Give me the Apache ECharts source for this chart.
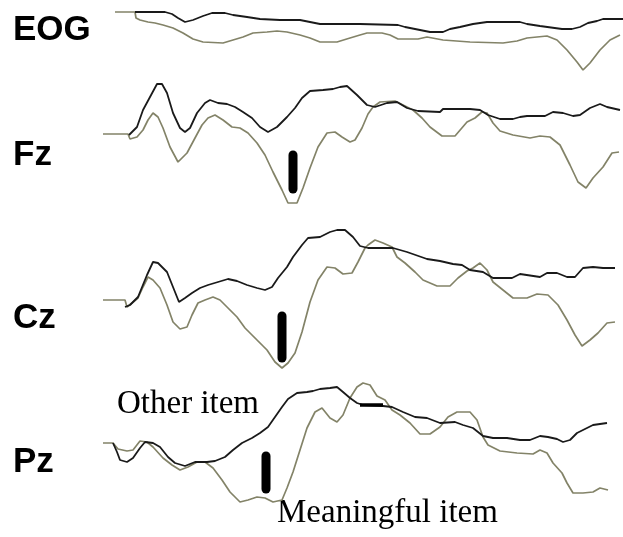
<!DOCTYPE html>
<html>
<head>
<meta charset="utf-8">
<script src="https://cdn.jsdelivr.net/npm/echarts@6/dist/echarts.min.js"></script>
<style>
html,body{margin:0;padding:0;background:#fff;}
#chart{width:623px;height:537px;}
</style>
</head>
<body>
<div id="chart"></div>
<script>
// Channel labels
const channels = ['EOG', 'Fz', 'Cz', 'Pz'];
const itemLabels = ['Other item', 'Meaningful item'];

// Time (samples) / amplitude pairs
const eogMeaningful = [[115,0],[135,0],[136,-6],[140,-8],[148,-10],[155,-11],[163,-13],[173,-16],[183,-21],[193,-27],[203,-30],[223,-31],[233,-28],[243,-25],[253,-21],[267,-20],[277,-19],[287,-20],[300,-23],[310,-26],[320,-30],[337,-30],[350,-26],[360,-23],[367,-21],[382,-21],[390,-23],[398,-27],[418,-27],[427,-25],[443,-28],[470,-30],[503,-31],[517,-29],[527,-26],[547,-24],[557,-28],[567,-38],[577,-50],[583,-58],[590,-51],[600,-38],[610,-28],[620,-23]];
const eogOther = [[135,0],[165,0],[172,-2],[178,-6],[185,-10],[193,-8],[203,-4],[212,-1],[225,-1],[233,-3],[247,-5],[260,-7],[280,-8],[300,-8],[310,-10],[320,-12],[360,-12],[398,-13],[405,-15],[415,-17],[430,-20],[443,-20],[450,-17],[460,-15],[473,-12],[487,-10],[520,-10],[527,-12],[540,-14],[562,-17],[572,-17],[580,-15],[588,-11],[597,-9],[603,-7],[623,-7]];

const fzMeaningful = [[103,0],[128,0],[130,-5],[137,-3],[143,4],[148,14],[153,21],[158,17],[163,6],[170,-13],[178,-28],[187,-19],[195,-4],[202,9],[208,16],[215,19],[223,14],[232,7],[240,6],[248,1],[257,-9],[265,-21],[273,-38],[282,-56],[288,-69],[297,-69],[303,-54],[310,-34],[318,-13],[327,1],[335,2],[342,-3],[350,-8],[355,-6],[362,6],[368,20],[373,27],[380,32],[395,33],[403,29],[413,24],[422,16],[430,7],[442,-2],[455,-2],[467,12],[475,16],[482,22],[487,21],[493,11],[500,3],[513,-1],[530,-4],[540,-2],[550,-3],[560,-11],[570,-31],[578,-48],[586,-54],[593,-44],[603,-33],[612,-19],[619,-18]];
const fzOther = [[129,-1],[137,7],[143,24],[150,37],[157,50],[162,50],[167,41],[173,21],[180,6],[185,2],[190,6],[197,21],[205,31],[210,34],[218,31],[227,30],[235,27],[243,22],[252,16],[260,7],[268,2],[277,7],[287,17],[295,26],[302,36],[310,43],[323,44],[333,45],[340,47],[347,48],[357,39],[367,29],[375,27],[387,31],[397,32],[407,26],[418,23],[440,22],[443,25],[460,25],[470,25],[480,24],[488,19],[500,15],[513,15],[520,17],[527,18],[545,18],[553,22],[563,21],[573,18],[580,19],[590,26],[600,30],[607,27],[620,24]];

const czMeaningful = [[103,0],[125,0],[127,-7],[132,-3],[138,2],[143,13],[148,23],[153,20],[160,12],[167,-5],[173,-22],[180,-29],[187,-27],[192,-15],[198,-3],[205,0],[213,3],[220,0],[228,-8],[237,-17],[245,-28],[257,-40],[267,-50],[275,-62],[282,-68],[288,-63],[295,-53],[302,-32],[310,-2],[318,20],[327,33],[335,32],[343,26],[352,27],[358,38],[365,52],[368,55],[375,60],[383,57],[392,53],[397,43],[405,37],[415,28],[423,20],[437,14],[450,14],[458,22],[467,29],[473,32],[480,37],[487,30],[493,18],[503,10],[513,2],[527,2],[537,6],[548,5],[558,-5],[567,-20],[575,-35],[582,-46],[590,-40],[598,-33],[607,-23],[615,-22]];
const czOther = [[125,-7],[130,-5],[138,3],[147,25],[153,38],[158,37],[167,28],[173,13],[179,-2],[185,2],[192,7],[200,12],[208,15],[218,18],[228,21],[237,19],[247,15],[257,12],[265,10],[272,13],[278,22],[287,33],[293,43],[302,55],[308,62],[320,63],[330,68],[337,70],[345,70],[353,63],[360,54],[368,52],[380,52],[393,52],[407,48],[427,41],[440,39],[453,36],[462,35],[470,30],[483,28],[493,22],[512,22],[520,26],[540,23],[547,27],[557,27],[567,23],[575,23],[583,32],[593,33],[603,32],[615,32]];

const pzMeaningful = [[103,0],[113,0],[118,-6],[127,-8],[133,-7],[140,2],[147,1],[153,-4],[163,-15],[172,-22],[180,-27],[188,-24],[197,-19],[205,-19],[213,-25],[222,-37],[230,-49],[240,-59],[248,-57],[257,-54],[265,-55],[273,-59],[282,-57],[287,-45],[293,-29],[300,-7],[307,15],[315,31],[322,35],[330,25],[337,21],[343,28],[350,45],[357,56],[363,60],[370,58],[377,47],[385,43],[392,33],[400,28],[410,20],[420,9],[430,9],[440,16],[448,26],[457,31],[470,31],[477,23],[483,6],[488,-2],[500,-8],[517,-10],[533,-11],[540,-7],[547,-10],[553,-20],[562,-30],[567,-40],[573,-50],[583,-50],[593,-49],[600,-45],[608,-47]];
const pzOther = [[113,0],[117,-9],[120,-17],[127,-19],[133,-15],[140,-5],[145,1],[153,0],[160,-4],[168,-14],[175,-20],[185,-23],[195,-19],[207,-19],[215,-18],[225,-14],[233,-7],[242,0],[252,5],[260,10],[268,16],[275,26],[282,36],[288,44],[297,50],[307,51],[313,52],[320,54],[330,55],[337,56],[343,51],[350,45],[357,40],[363,38],[383,37],[392,36],[403,31],[415,26],[427,25],[440,20],[455,21],[463,18],[473,15],[483,7],[493,5],[507,5],[520,3],[530,3],[540,7],[548,6],[557,4],[563,1],[570,3],[577,10],[587,15],[593,18],[607,20]];

// Peak markers (latency, amplitude span)
const fzPeakMark = [[293,-21],[293,-55]];
const czPeakMark = [[282,-16],[282,-58]];
const pzPeakMark = [[266,-13],[266,-46]];
const pzOtherMark = [[360,38],[383,38]];

const GRAY = '#838368';
const BLACK = '#1a1a1a';

const panels = [
  {top: 0,   height: 80,  min: -68, max: 12, m: eogMeaningful, o: eogOther, marks: []},
  {top: 75,  height: 140, min: -81, max: 59, m: fzMeaningful, o: fzOther, marks: [fzPeakMark]},
  {top: 220, height: 160, min: -80, max: 80, m: czMeaningful, o: czOther, marks: [czPeakMark]},
  {top: 375, height: 135, min: -67, max: 68, m: pzMeaningful, o: pzOther, marks: [pzPeakMark]}
];

const grid = [], xAxis = [], yAxis = [], series = [];
panels.forEach((p, i) => {
  grid.push({left: 100, width: 523, top: p.top, height: p.height, containLabel: false});
  xAxis.push({type: 'value', gridIndex: i, min: 100, max: 623, show: false});
  yAxis.push({type: 'value', gridIndex: i, min: p.min, max: p.max, show: false});
  series.push({type: 'line', xAxisIndex: i, yAxisIndex: i, data: p.m, symbol: 'none',
    lineStyle: {color: GRAY, width: 1.7}, z: 2, silent: true, animation: false});
  series.push({type: 'line', xAxisIndex: i, yAxisIndex: i, data: p.o, symbol: 'none',
    lineStyle: {color: BLACK, width: 1.8}, z: 3, silent: true, animation: false});
  p.marks.forEach(mk => {
    series.push({type: 'line', xAxisIndex: i, yAxisIndex: i, data: mk, symbol: 'none',
      lineStyle: {color: '#000', width: 9, cap: 'round'}, z: 4, silent: true, animation: false});
  });
});
series.push({type: 'line', xAxisIndex: 3, yAxisIndex: 3, data: pzOtherMark, symbol: 'none',
  lineStyle: {color: '#000', width: 3.5}, z: 4, silent: true, animation: false});

const labelY = [30, 155, 318, 462];
const graphic = channels.map((c, i) => ({
  type: 'text', x: 13, y: labelY[i],
  style: {text: c, fill: '#000', font: 'bold 35px "Liberation Sans", Arial, sans-serif',
    textVerticalAlign: 'middle', textAlign: 'left'}
}));
graphic.push({type: 'text', x: 117, y: 421,
  style: {text: itemLabels[0], fill: '#000', font: 'normal 33px "Liberation Serif", "Times New Roman", serif',
    textVerticalAlign: 'bottom', textAlign: 'left'}});
graphic.push({type: 'text', x: 277, y: 530,
  style: {text: itemLabels[1], fill: '#000', font: 'normal 33px "Liberation Serif", "Times New Roman", serif',
    textVerticalAlign: 'bottom', textAlign: 'left'}});

const chart = echarts.init(document.getElementById('chart'), null, {renderer: 'canvas'});
chart.setOption({backgroundColor: '#fff', animation: false, grid, xAxis, yAxis, series, graphic});
</script>
</body>
</html>
